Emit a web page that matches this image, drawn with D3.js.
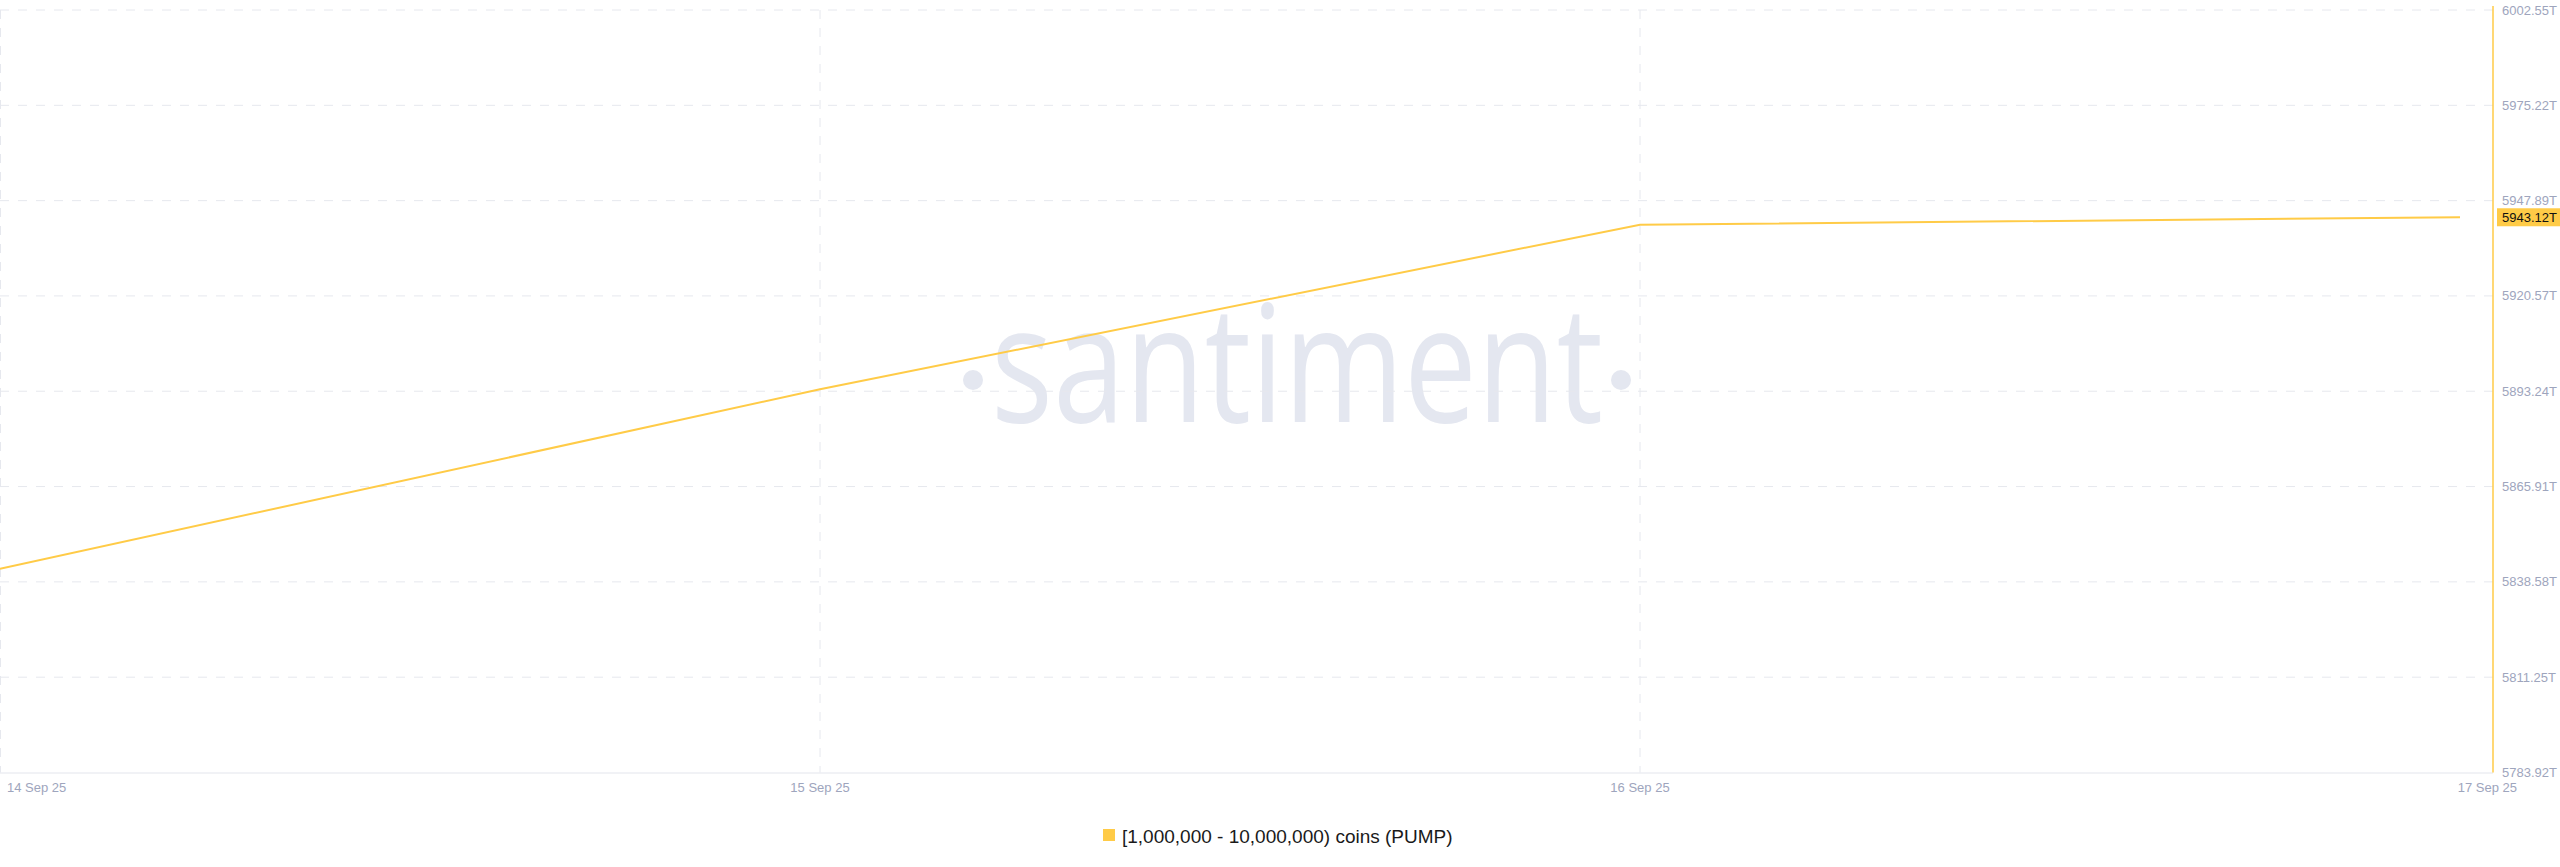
<!DOCTYPE html>
<html><head><meta charset="utf-8">
<script src="https://cdn.jsdelivr.net/npm/d3@7"></script>
<style>html,body{margin:0;padding:0;background:#fff;}svg{display:block;}</style>
</head><body>
<svg id="c" width="2560" height="867"></svg>
<script>
const dates = ["2025-09-14", "2025-09-15", "2025-09-16", "2025-09-17"];
const values = [5842.3, 5893.8, 5941.0, 5943.12];
const yTicks = [5783.92, 5811.25, 5838.58, 5865.91, 5893.24, 5920.57, 5947.89, 5975.22, 6002.55];
const xTickLabels = ["14 Sep 25", "15 Sep 25", "16 Sep 25", "17 Sep 25"];
const seriesName = "[1,000,000 - 10,000,000) coins (PUMP)";
const lastLabel = "5943.12T";

const parse = d3.utcParse("%Y-%m-%d");
const W = 2560, H = 867;
const plotL = 0, plotR = 2493, plotT = 10, plotB = 772.5;
const yellow = "#ffcb47";
const labelColor = "#9ea5bd";
const gridColor = "#e6e8ee";

const svg = d3.select("#c");
const x = d3.scaleUtc().domain([parse(dates[0]), parse(dates[3])]).range([0, 2460]);
const y = d3.scaleLinear().domain([yTicks[0], yTicks[yTicks.length-1]]).range([plotB, plotT]);

// watermark
const wm = svg.append("g").attr("fill", "#e4e7f0");
wm.append("text").attr("x", 991).attr("y", 422).attr("font-family", "Open Sans")
  .attr("font-size", 163).attr("textLength", 612).attr("lengthAdjust", "spacingAndGlyphs")
  .text("santiment");
wm.append("circle").attr("cx", 973).attr("cy", 380).attr("r", 10);
wm.append("circle").attr("cx", 1621).attr("cy", 380).attr("r", 10);

// horizontal grid
svg.append("g").selectAll("line").data(yTicks.slice(1)).join("line")
  .attr("x1", plotL).attr("x2", plotR).attr("y1", d => y(d)).attr("y2", d => y(d))
  .attr("stroke", gridColor).attr("stroke-width", 1).attr("stroke-dasharray", "9,9");

// vertical grid
svg.append("g").selectAll("line").data(dates.slice(0, 3)).join("line")
  .attr("x1", d => Math.max(0.5, x(parse(d)))).attr("x2", d => Math.max(0.5, x(parse(d))))
  .attr("y1", plotT).attr("y2", plotB)
  .attr("stroke", gridColor).attr("stroke-width", 1).attr("stroke-dasharray", "9,9");

// bottom axis line
svg.append("line").attr("x1", 0).attr("x2", plotR).attr("y1", plotB + 0.5).attr("y2", plotB + 0.5)
  .attr("stroke", "#e3e5ec").attr("stroke-width", 1);

// right axis line
svg.append("line").attr("x1", plotR).attr("x2", plotR).attr("y1", plotT - 4).attr("y2", plotB)
  .attr("stroke", yellow).attr("stroke-width", 1.5);

// y tick labels
svg.append("g").selectAll("text").data(yTicks).join("text")
  .attr("x", 2502).attr("y", d => y(d)).attr("dy", "0.35em")
  .attr("font-family", "Liberation Sans, Arial, sans-serif").attr("font-size", 13)
  .attr("fill", labelColor).text(d => d.toFixed(2) + "T");

// x tick labels
svg.append("g").selectAll("text").data(dates).join("text")
  .attr("x", (d, i) => i === 0 ? 7 : (i === dates.length - 1 ? 2517 : x(parse(d))))
  .attr("text-anchor", (d, i) => i === 0 ? "start" : (i === dates.length - 1 ? "end" : "middle"))
  .attr("y", 787).attr("dy", "0.35em")
  .attr("font-family", "Liberation Sans, Arial, sans-serif").attr("font-size", 13)
  .attr("fill", labelColor).text((d, i) => xTickLabels[i]);

// line
const line = d3.line().x(d => x(parse(d[0]))).y(d => y(d[1]));
svg.append("path").datum(dates.map((d, i) => [d, values[i]]))
  .attr("d", line).attr("fill", "none").attr("stroke", yellow).attr("stroke-width", 2);

// last value badge
const lv = values[values.length - 1];
svg.append("rect").attr("x", 2497).attr("y", y(lv) - 9).attr("width", 63).attr("height", 18)
  .attr("fill", yellow);
svg.append("text").attr("x", 2502).attr("y", y(lv)).attr("dy", "0.35em")
  .attr("font-family", "Liberation Sans, Arial, sans-serif").attr("font-size", 13)
  .attr("fill", "#111").text(lastLabel);

// legend
svg.append("rect").attr("x", 1103).attr("y", 829).attr("width", 12).attr("height", 12).attr("fill", yellow);
svg.append("text").attr("x", 1122).attr("y", 836).attr("dy", "0.35em")
  .attr("font-family", "Liberation Sans, Arial, sans-serif").attr("font-size", 19)
  .attr("fill", "#1a1a1a").text(seriesName);
</script>
</body></html>
